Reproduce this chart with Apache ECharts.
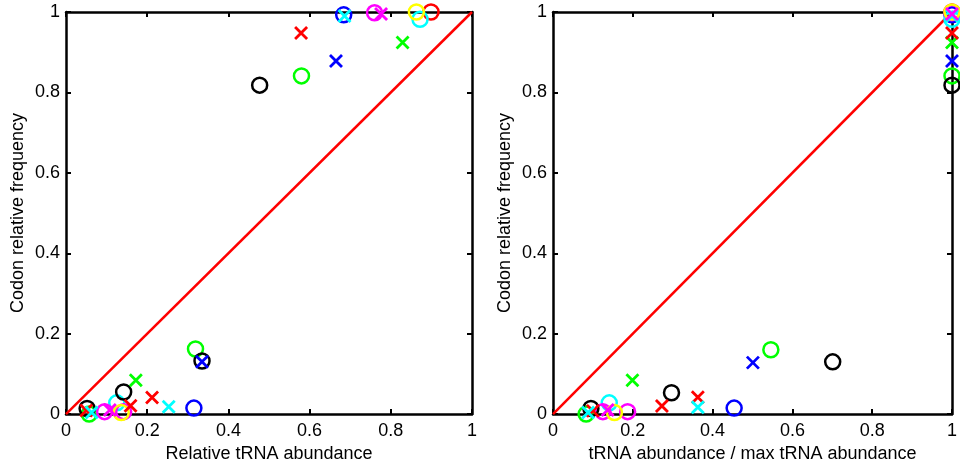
<!DOCTYPE html>
<html>
<head>
<meta charset="utf-8">
<style>
  html, body { margin: 0; padding: 0; background: #fff; }
  #chart { width: 960px; height: 468px; }
</style>
<script src="https://cdn.jsdelivr.net/npm/echarts@6/dist/echarts.min.js"></script>
</head>
<body>
<div id="chart"></div>
<script>
// Axis ticks shared by both panels
const tickValues = [0, 0.2, 0.4, 0.6, 0.8, 1];

// Left panel: [relative tRNA abundance, codon relative frequency]
const leftBlueO    = [[0.684, 0.993], [0.315, 0.015]];
const leftGreenO   = [[0.580, 0.841], [0.319, 0.162], [0.057, 0.0]];
const leftRedO     = [[0.899, 1.0]];
const leftCyanO    = [[0.872, 0.982], [0.125, 0.028]];
const leftMagentaO = [[0.760, 0.998], [0.095, 0.006], [0.142, 0.006]];
const leftYellowO  = [[0.863, 1.0], [0.136, 0.004]];
const leftBlackO   = [[0.477, 0.818], [0.335, 0.132], [0.142, 0.055], [0.052, 0.014]];
const leftRedX     = [[0.579, 0.948], [0.212, 0.041], [0.159, 0.021], [0.050, 0.009]];
const leftGreenX   = [[0.829, 0.924], [0.172, 0.084]];
const leftBlueX    = [[0.665, 0.878], [0.335, 0.130]];
const leftCyanX    = [[0.686, 0.990], [0.253, 0.018], [0.063, 0.004]];
const leftMagentaX = [[0.776, 0.995], [0.108, 0.010]];

// Right panel: [tRNA abundance / max tRNA abundance, codon relative frequency]
const rightBlueO    = [[1, 0.993], [0.454, 0.015]];
const rightGreenO   = [[1, 0.841], [0.546, 0.160], [0.083, 0.0]];
const rightRedO     = [[1, 1.0]];
const rightCyanO    = [[1, 0.982], [0.141, 0.028]];
const rightMagentaO = [[1, 0.998], [0.125, 0.006], [0.187, 0.006]];
const rightYellowO  = [[1, 1.0], [0.154, 0.004]];
const rightBlackO   = [[1, 0.818], [0.701, 0.130], [0.297, 0.053], [0.095, 0.014]];
const rightRedX     = [[1, 0.948], [0.363, 0.042], [0.273, 0.020], [0.100, 0.008]];
const rightGreenX   = [[1, 0.924], [0.199, 0.084]];
const rightBlueX    = [[1, 0.878], [0.501, 0.128]];
const rightCyanX    = [[1, 0.990], [0.363, 0.017], [0.088, 0.004]];
const rightMagentaX = [[1, 0.995], [0.137, 0.010]];

// y = x reference line
const diagonal = [[0, 0], [1, 1]];

const C = {
  blue: '#0000ff', green: '#00ff00', red: '#ff0000', cyan: '#00ffff',
  magenta: '#ff00ff', yellow: '#ffff00', black: '#000000'
};

// circles first, crosses on top
const groups = [
  { color: C.blue,    mark: 'o', left: leftBlueO,    right: rightBlueO },
  { color: C.green,   mark: 'o', left: leftGreenO,   right: rightGreenO },
  { color: C.red,     mark: 'o', left: leftRedO,     right: rightRedO },
  { color: C.cyan,    mark: 'o', left: leftCyanO,    right: rightCyanO },
  { color: C.magenta, mark: 'o', left: leftMagentaO, right: rightMagentaO },
  { color: C.yellow,  mark: 'o', left: leftYellowO,  right: rightYellowO },
  { color: C.black,   mark: 'o', left: leftBlackO,   right: rightBlackO },
  { color: C.blue,    mark: 'x', left: leftBlueX,    right: rightBlueX },
  { color: C.green,   mark: 'x', left: leftGreenX,   right: rightGreenX },
  { color: C.red,     mark: 'x', left: leftRedX,     right: rightRedX },
  { color: C.cyan,    mark: 'x', left: leftCyanX,    right: rightCyanX },
  { color: C.magenta, mark: 'x', left: leftMagentaX, right: rightMagentaX }
];

const FONT = 'Liberation Sans, Arial, sans-serif';
const FS = 18;
const AXIS_W = 2.5;

function mainX(gridIndex, name) {
  return {
    type: 'value', gridIndex, min: 0, max: 1, interval: 0.2,
    name, nameLocation: 'middle', nameGap: 28,
    nameTextStyle: { color: '#000', fontFamily: FONT, fontSize: FS },
    axisLine: { show: true, onZero: false, lineStyle: { color: '#000', width: AXIS_W } },
    axisTick: { show: true, inside: true, length: 5, lineStyle: { color: '#000', width: 2 } },
    axisLabel: { color: '#000', fontFamily: FONT, fontSize: FS, margin: 8,
                 formatter: v => String(+v.toFixed(1)) },
    splitLine: { show: false }
  };
}
function mirrorX(gridIndex) {
  return {
    type: 'value', gridIndex, min: 0, max: 1, interval: 0.2, position: 'top',
    axisLine: { show: true, onZero: false, lineStyle: { color: '#000', width: AXIS_W } },
    axisTick: { show: true, inside: true, length: 5, lineStyle: { color: '#000', width: 2 } },
    axisLabel: { show: false }, splitLine: { show: false }
  };
}
function mainY(gridIndex, name) {
  return {
    type: 'value', gridIndex, min: 0, max: 1, interval: 0.2,
    name, nameLocation: 'middle', nameGap: 39,
    nameTextStyle: { color: '#000', fontFamily: FONT, fontSize: FS },
    axisLine: { show: true, onZero: false, lineStyle: { color: '#000', width: AXIS_W } },
    axisTick: { show: true, inside: true, length: 5, lineStyle: { color: '#000', width: 2 } },
    axisLabel: { color: '#000', fontFamily: FONT, fontSize: FS, margin: 6,
                 formatter: v => String(+v.toFixed(1)) },
    splitLine: { show: false }
  };
}
function mirrorY(gridIndex) {
  return {
    type: 'value', gridIndex, min: 0, max: 1, interval: 0.2, position: 'right',
    axisLine: { show: true, onZero: false, lineStyle: { color: '#000', width: AXIS_W } },
    axisTick: { show: true, inside: true, length: 5, lineStyle: { color: '#000', width: 2 } },
    axisLabel: { show: false }, splitLine: { show: false }
  };
}

const CROSS = 'path://M0,0L10,10M10,0L0,10';

function scatterSeries(g, data, xi, yi) {
  const isCircle = g.mark === 'o';
  return {
    type: 'scatter', xAxisIndex: xi, yAxisIndex: yi, data, clip: false,
    symbol: isCircle ? 'circle' : CROSS,
    symbolSize: isCircle ? 15 : 12,
    itemStyle: { color: 'rgba(0,0,0,0)', borderColor: g.color, borderWidth: isCircle ? 2.5 : 2.8, opacity: 1 },
    emphasis: { disabled: true },
    silent: true, z: 3
  };
}

const series = [];
// diagonal lines (left uses axes 0, right uses axes 2)
[0, 2].forEach(ai => {
  series.push({
    type: 'line', xAxisIndex: ai, yAxisIndex: ai, data: diagonal,
    symbol: 'none', lineStyle: { color: '#ff0000', width: 2.5 }, silent: true, z: 2
  });
});
groups.forEach(g => {
  series.push(scatterSeries(g, g.left, 0, 0));
  series.push(scatterSeries(g, g.right, 2, 2));
});

const chart = echarts.init(document.getElementById('chart'), null, { renderer: 'canvas' });
chart.setOption({
  animation: false,
  backgroundColor: '#fff',
  grid: [
    { left: 66, right: 488, top: 12, bottom: 50 },
    { left: 553, right: 3.5, top: 12, bottom: 50 }
  ],
  xAxis: [
    mainX(0, 'Relative tRNA abundance'), mirrorX(0),
    mainX(1, 'tRNA abundance / max tRNA abundance'), mirrorX(1)
  ],
  yAxis: [
    mainY(0, 'Codon relative frequency'), mirrorY(0),
    mainY(1, 'Codon relative frequency'), mirrorY(1)
  ],
  series
});
</script>
</body>
</html>
